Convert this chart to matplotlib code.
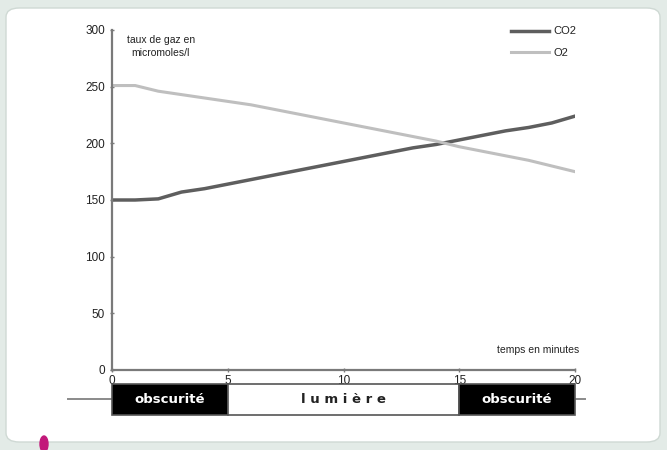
import matplotlib.pyplot as plt
from matplotlib.patches import Rectangle, FancyBboxPatch, Ellipse

plt.rcParams['font.family'] = ['Liberation Sans', 'DejaVu Sans']

minutes = list(range(21))
co2 = [150, 150, 151, 157, 160, 164, 168, 172, 176, 180, 184,
       188, 192, 196, 199, 203, 207, 211, 214, 218, 224]
o2 = [251, 251, 246, 243, 240, 237, 234, 230, 226, 222, 218,
      214, 210, 206, 202, 197, 193, 189, 185, 180, 175]
periods = [(0, 5, 'obscurité'), (5, 15, 'l u m i è r e'), (15, 20, 'obscurité')]

W, H = 667, 450
fig = plt.figure(figsize=(W / 100, H / 100), dpi=100)
fig.patch.set_facecolor('#e3ebe7')

# white rounded panel behind the chart
panel = FancyBboxPatch((6 / W, 8 / H), 654 / W, 434 / H,
                       boxstyle='round,pad=0,rounding_size=0.02',
                       transform=fig.transFigure, facecolor='white',
                       edgecolor='#cfd9d4', linewidth=1.0, zorder=-10)
fig.patches.append(panel)
fig.patches.append(Ellipse((44 / W, 6 / H), 8 / W, 16 / H, zorder=-5,
                           transform=fig.transFigure, color='#c2187a'))

ax = fig.add_axes([112 / W, 80 / H, 463 / W, 340 / H])
ax.set_facecolor('none')

ax.plot(minutes, co2, color='#5e5e5e', lw=2.5, label='CO2')
ax.plot(minutes, o2, color='#bfbfbf', lw=2.2, label='O2')

ax.set_xlim(0, 20)
ax.set_ylim(0, 300)
ax.set_xticks([0, 5, 10, 15, 20])
ax.set_yticks(range(0, 301, 50))
for s in ['top', 'right']:
    ax.spines[s].set_visible(False)
for s in ['left', 'bottom']:
    ax.spines[s].set_color('#7a7a7a')
    ax.spines[s].set_linewidth(1.6)
ax.tick_params(axis='both', colors='#7a7a7a', length=3, width=1, direction='inout',
               labelsize=8.5, labelcolor='#222222')
ax.tick_params(axis='x', pad=2)

ax.text(0.105, 0.985, 'taux de gaz en\nmicromoles/l', transform=ax.transAxes,
        ha='center', va='top', fontsize=7.5, color='#222222', linespacing=1.3)
ax.text(1.01, 0.045, 'temps en minutes', transform=ax.transAxes,
        ha='right', va='bottom', fontsize=7.5, color='#222222')

leg = ax.legend(loc='upper right', bbox_to_anchor=(1.025, 1.04), frameon=False,
                fontsize=8, handlelength=3.4, labelspacing=1.0, handletextpad=0.4)
for t in leg.get_texts():
    t.set_color('#222222')

# light / dark timeline band under the x axis
tr = ax.get_xaxis_transform()
y0, y1 = -0.132, -0.041
ax.plot([-1.9, 20.45], [(y0 + y1) / 2] * 2, transform=tr, color='#8a8a8a',
        lw=1.4, clip_on=False, zorder=1)
for a, b, label in periods:
    dark = label == 'obscurité'
    ax.add_patch(Rectangle((a, y0), b - a, y1 - y0, transform=tr, clip_on=False,
                           facecolor='black' if dark else 'white',
                           edgecolor='#555555', lw=1.2, zorder=2))
    ax.text((a + b) / 2, (y0 + y1) / 2, label, transform=tr, ha='center',
            va='center', fontsize=9.5, fontweight='bold', zorder=3,
            color='white' if dark else '#222222',
            fontfamily=['DejaVu Sans'])

fig.savefig('out.png', dpi=100, facecolor=fig.get_facecolor())
